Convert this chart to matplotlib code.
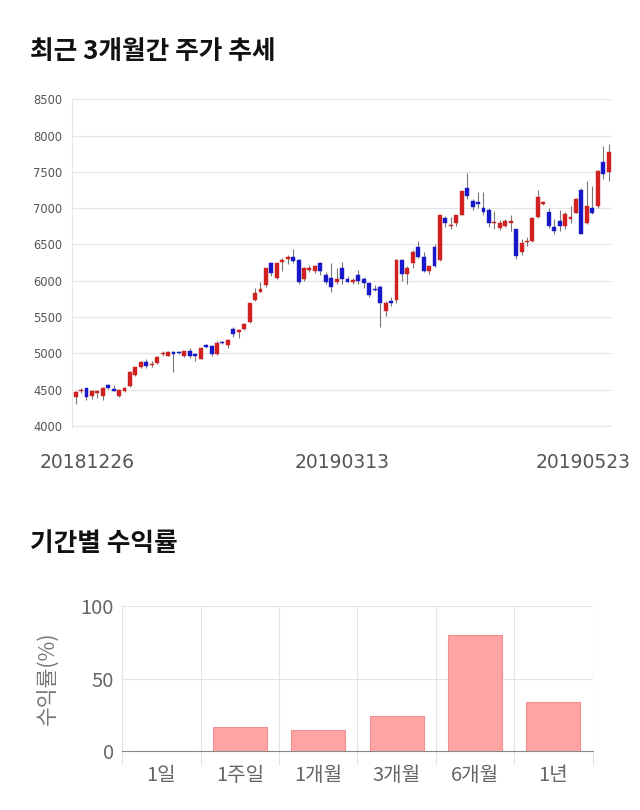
import matplotlib
matplotlib.use('Agg')
import matplotlib.pyplot as plt
import numpy as np

plt.rcParams['font.family'] = ['Noto Sans CJK KR', 'DejaVu Sans']

# daily candles, 20181226 .. 20190523
opens = [4400, 4480, 4520, 4410, 4450, 4410, 4560, 4500, 4420, 4490,
         4550, 4700, 4810, 4880, 4840, 4870, 4990, 4970, 5020, 5010,
         4970, 5040, 4980, 4930, 5110, 5100, 4990, 5150, 5110, 5340,
         5290, 5340, 5430, 5730, 5850, 5940, 6240, 6040, 6260, 6300,
         6330, 6280, 6030, 6150, 6140, 6250, 6080, 6040, 5980, 6180,
         6030, 5990, 6080, 6020, 5970, 5880, 5920, 5580, 5720, 5730,
         6280, 6100, 6240, 6470, 6330, 6130, 6470, 6290, 6870, 6750,
         6790, 6910, 7280, 7100, 7090, 7000, 6980, 6790, 6730, 6760,
         6800, 6710, 6390, 6530, 6550, 6880, 7060, 6950, 6740, 6830,
         6760, 6850, 6940, 7250, 6790, 7000, 7030, 7640, 7500]
highs = [4480, 4530, 4530, 4500, 4500, 4540, 4580, 4560, 4510, 4540,
         4760, 4820, 4900, 4930, 4890, 4970, 5040, 5040, 5040, 5040,
         5040, 5070, 5010, 5080, 5130, 5110, 5170, 5170, 5200, 5360,
         5340, 5420, 5700, 5900, 5980, 6180, 6260, 6250, 6320, 6360,
         6440, 6300, 6190, 6220, 6220, 6260, 6120, 6250, 6180, 6260,
         6070, 6040, 6150, 6050, 5990, 5940, 5940, 5720, 5780, 6300,
         6300, 6200, 6420, 6550, 6390, 6200, 6500, 6910, 6890, 6880,
         6910, 7240, 7490, 7130, 7220, 7220, 7000, 6960, 6840, 6850,
         6900, 6720, 6580, 6600, 6880, 7250, 7100, 7000, 6850, 6980,
         6950, 7030, 7140, 7280, 7380, 7300, 7520, 7850, 7890]
lows = [4300, 4450, 4360, 4380, 4390, 4360, 4510, 4480, 4400, 4470,
        4540, 4690, 4800, 4800, 4820, 4850, 4960, 4960, 4740, 4990,
        4950, 4940, 4900, 4920, 5080, 4970, 4980, 5130, 5080, 5230,
        5220, 5320, 5420, 5720, 5840, 5920, 6070, 6030, 6140, 6230,
        6240, 5950, 6000, 6120, 6110, 6080, 5950, 5850, 5960, 5960,
        5980, 5950, 5960, 5900, 5780, 5860, 5360, 5520, 5650, 5700,
        6000, 5960, 6180, 6320, 6120, 6090, 6190, 6270, 6740, 6720,
        6750, 6900, 7130, 6980, 7000, 6900, 6740, 6720, 6700, 6740,
        6690, 6300, 6360, 6480, 6540, 6870, 7050, 6730, 6640, 6680,
        6720, 6790, 6930, 6650, 6780, 6920, 7000, 7400, 7380]
closes = [4470, 4490, 4400, 4480, 4490, 4530, 4520, 4490, 4500, 4530,
          4740, 4810, 4880, 4830, 4850, 4950, 5000, 5020, 4990, 5000,
          5030, 4960, 4970, 5070, 5090, 4990, 5150, 5140, 5190, 5270,
          5330, 5410, 5690, 5830, 5890, 6170, 6110, 6240, 6290, 6330,
          6270, 5980, 6170, 6150, 6200, 6140, 5990, 5920, 6030, 6030,
          5990, 6000, 6000, 5970, 5800, 5870, 5700, 5700, 5700, 6290,
          6090, 6170, 6400, 6330, 6130, 6200, 6210, 6900, 6790, 6760,
          6900, 7230, 7170, 7020, 7060, 6950, 6800, 6790, 6790, 6830,
          6800, 6340, 6520, 6540, 6870, 7160, 7090, 6760, 6690, 6760,
          6920, 6880, 7130, 6650, 7030, 6930, 7510, 7470, 7770]
date_labels = ['20181226', '20190313', '20190523']
price_ticks = [4000, 4500, 5000, 5500, 6000, 6500, 7000, 7500, 8000, 8500]

periods = ['1일', '1주일', '1개월', '3개월', '6개월', '1년']
returns = [0, 16.5, 14.5, 24, 80, 34]

fig = plt.figure(figsize=(6.4, 8.1), dpi=100)

fig.text(0.047, 0.937, '최근 3개월간 주가 추세', fontsize=18.5, fontweight='bold',
         color='#111111', va='center')
fig.text(0.047, 0.329, '기간별 수익률', fontsize=18.5, fontweight='bold',
         color='#111111', va='center')

# candlestick chart
ax1 = fig.add_axes([0.113, 0.473, 0.843, 0.405])
o = np.array(opens)
c = np.array(closes)
x = np.arange(len(o))
up = c >= o
colors = np.where(up, '#d02020', '#1818c8')
ax1.vlines(x, lows, highs, color='#777777', linewidth=0.8, zorder=2)
body = np.maximum(np.abs(c - o), 22)
ax1.bar(x, body, bottom=np.minimum(o, c), width=0.72, color=colors,
        edgecolor=colors, linewidth=0.3, zorder=3)

ax1.set_xlim(-0.6, len(o) - 0.4)
ax1.set_ylim(3990, 8505)
ax1.set_yticks(price_ticks)
ax1.set_yticklabels([str(t) for t in price_ticks], fontsize=8.3, color='#555555',
                    family='DejaVu Sans')
ax1.grid(axis='y', color='#e6e6e6', linewidth=0.9)
ax1.axhline(price_ticks[0], color='#e6e6e6', linewidth=0.9, zorder=0)
ax1.set_axisbelow(True)
ax1.tick_params(axis='both', length=0, pad=7)
ax1.set_xticks([])
for s in ['top', 'right', 'bottom']:
    ax1.spines[s].set_visible(False)
ax1.spines['left'].set_color('#e6e6e6')

# date labels under the chart
date_idx = [0, 49, len(o) - 1]
for lab, i, ha in zip(date_labels, date_idx, ['left', 'center', 'right']):
    xf = ax1.transData.transform((i, 4000))[0]
    if ha == 'left':
        xf = 40
    elif ha == 'right':
        xf = 631
    fig.text(xf / 640, 1 - 462 / 810, lab, fontsize=13.5, color='#555555',
             ha=ha, va='center', family='DejaVu Sans')

# returns bar chart
ax2 = fig.add_axes([0.191, 0.0728, 0.735, 0.179])
xb = np.arange(len(periods))
ax2.bar(xb, returns, width=0.69, color='#ffa4a4', edgecolor='#f19090',
        linewidth=0.8, zorder=3)
ax2.set_xlim(-0.5, len(periods) - 0.5)
ax2.set_ylim(0, 100)
ax2.set_yticks([0, 50, 100])
ax2.set_yticklabels(['0', '50', '100'], fontsize=14.5, color='#666666')
ax2.set_xticks(xb)
ax2.set_xticklabels(periods, fontsize=14.5, color='#666666')
ax2.set_xticks(np.arange(-0.5, len(periods)), minor=True)
ax2.tick_params(axis='x', which='major', length=0, pad=10)
ax2.tick_params(axis='x', which='minor', length=10, color='#e3e3e3', width=0.8)
ax2.tick_params(axis='y', length=0, pad=6)
ax2.grid(axis='y', color='#e3e3e3', linewidth=0.8)
ax2.grid(axis='x', which='minor', color='#e3e3e3', linewidth=0.8)
ax2.set_axisbelow(True)
for s in ['top', 'right']:
    ax2.spines[s].set_visible(False)
ax2.spines['left'].set_color('#e3e3e3')
ax2.spines['bottom'].set_color('#888888')
ax2.set_ylabel('수익률(%)', fontsize=15.5, color='#777777', labelpad=16)

fig.savefig('out.png', dpi=100, facecolor='white')
